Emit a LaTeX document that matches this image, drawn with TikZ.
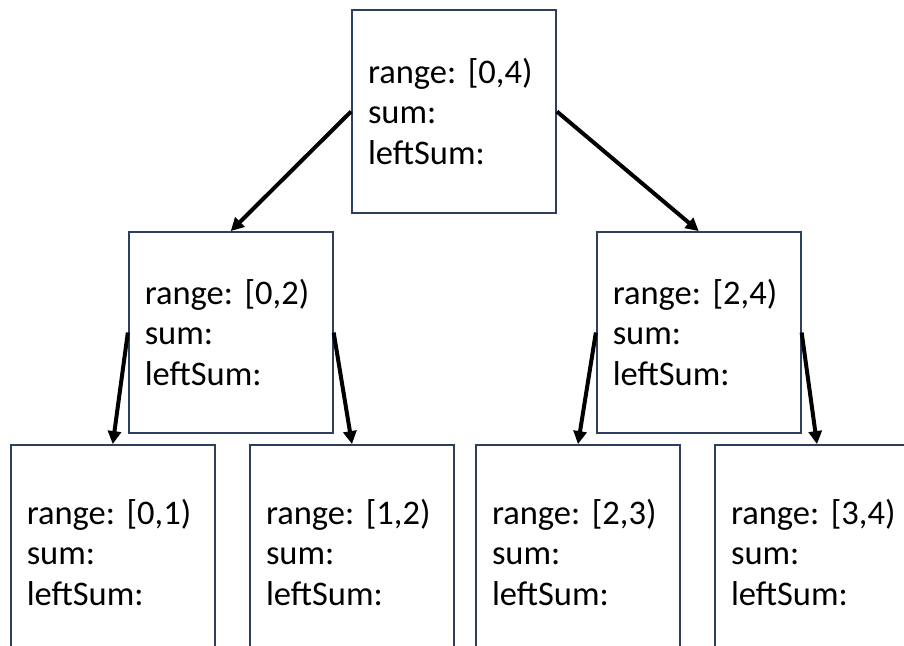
\documentclass[tikz,border=0pt]{standalone}
\usepackage{fontspec}
\setmainfont{Carlito}
\usetikzlibrary{arrows.meta}
\definecolor{boxline}{RGB}{46,62,94}
\tikzset{
  segbox/.style={draw=boxline, line width=1.8pt, fill=white,
    inner xsep=16pt, inner ysep=0pt, text width=172pt, align=left,
    minimum height=#1, font=\frenchspacing\fontsize{34.5}{40.5}\selectfont},
  link/.style={line width=4pt, -{Triangle[length=13pt,width=13pt]}}
}
\begin{document}
\begin{tikzpicture}[x=1pt, y=-1pt]
\useasboundingbox (0,0) rectangle (904,645);
\clip (0,0) rectangle (904,645);
% root segment
\node[segbox=203pt] (r) at (454,111.5) {range: [0,4)\\sum:\\leftSum:};
% second level
\node[segbox=201pt] (a) at (230.75,332.5) {range: [0,2)\\sum:\\leftSum:};
\node[segbox=201pt] (b) at (698.75,332.5) {range: [2,4)\\sum:\\leftSum:};
% leaves (run past the lower edge)
\node[segbox=215pt] (l1) at (112.75,552.5) {range: [0,1)\\sum:\\leftSum:};
\node[segbox=215pt] (l2) at (352,552.5) {range: [1,2)\\sum:\\leftSum:};
\node[segbox=215pt] (l3) at (578,552.5) {range: [2,3)\\sum:\\leftSum:};
\node[segbox=215pt] (l4) at (817,552.5) {range: [3,4)\\sum:\\leftSum:};
% links from parent sides to child tops
\draw[link] (r.west) -- (a.north);
\draw[link] (r.east) -- (b.north);
\draw[link] (a.west) -- (l1.north);
\draw[link] (a.east) -- (l2.north);
\draw[link] (b.west) -- (l3.north);
\draw[link] (b.east) -- (l4.north);
\end{tikzpicture}
\end{document}
